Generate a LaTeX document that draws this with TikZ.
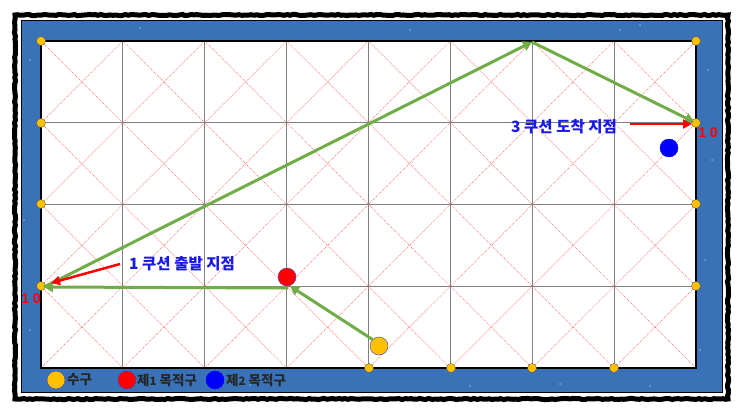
\documentclass[tikz,border=0pt]{standalone}
\usepackage{fontspec}
\setmainfont{Liberation Sans}
\newfontfamily\kr{Noto Sans CJK KR}
\usetikzlibrary{arrows.meta,decorations.pathmorphing}
\definecolor{rail}{HTML}{3A72B8}
\definecolor{gold}{HTML}{FFC000}
\definecolor{shotgreen}{HTML}{70AD47}
\definecolor{labelblue}{HTML}{1A1AE6}
\tikzset{
  gridline/.style={draw=black!50, line width=1.2pt},
  diag/.style={draw=red!60, line width=0.5pt, dash pattern=on 1pt off 1pt},
  diamondpt/.style={circle, fill=gold, draw=gray!60!black, line width=0.3pt, minimum size=9pt, inner sep=0pt},
  ball/.style={circle, draw=gray!50!blue, line width=0.4pt, minimum size=18pt, inner sep=0pt},
  shot/.style={draw=shotgreen, line width=3pt, -{Triangle[length=9pt,width=10pt]}},
  pointer/.style={draw=red, line width=2.5pt, -{Triangle[length=9pt,width=9pt]}},
  callout/.style={font=\kr\bfseries\fontsize{15.5}{17}\selectfont, text=labelblue, inner sep=0pt},
  num/.style={font=\bfseries\fontsize{14}{16}\selectfont, text=red, inner sep=0pt},
  legendtxt/.style={font=\kr\bfseries\fontsize{13.5}{15}\selectfont, text=black!85, inner sep=0pt, anchor=west},
  star/.style={circle, fill=white, opacity=0.35, inner sep=0pt, minimum size=2pt}
}
\begin{document}
\begin{tikzpicture}[x=1pt,y=-1pt]
\useasboundingbox (0,0) rectangle (743,414);
% outer rough black frame
\draw[line width=5pt, black, decorate, decoration={random steps, segment length=3pt, amplitude=0.6pt}]
  (15,15) rectangle (728,399);
% blue rail
\fill[rail] (21,20) rectangle (722,392);
\draw[black, line width=0.8pt] (21,20) rectangle (722,392);
% faint stars
\foreach \p in {(30,60),(140,28),(410,30),(640,25),(708,70),(712,160),(705,260),(30,330),(100,395),(250,385),(470,386),(560,384),(650,386),(700,350),(620,30),(24,220)}
  \node[star] at \p {};
% table surface
\fill[white] (41,41) rectangle (696,368);
% diagonals
\foreach \i in {0,...,7} {
  \foreach \j in {0,...,3} {
    \draw[diag] ({41+\i*81.875},{41+\j*81.75}) -- ({41+(\i+1)*81.875},{41+(\j+1)*81.75});
    \draw[diag] ({41+(\i+1)*81.875},{41+\j*81.75}) -- ({41+\i*81.875},{41+(\j+1)*81.75});
  }
}
% grid lines
\foreach \i in {1,...,7} \draw[gridline] ({41+\i*81.875},41) -- ({41+\i*81.875},368);
\foreach \j in {1,...,3} \draw[gridline] (41,{41+\j*81.75}) -- (696,{41+\j*81.75});
\draw[black, line width=1.2pt] (41,41) rectangle (696,368);
% diamond points
\node[diamondpt] (tl) at (41,41) {};
\node[diamondpt] (l1) at (41,123) {};
\node[diamondpt] (l2) at (41,204) {};
\node[diamondpt] (l3) at (41,286) {};
\node[diamondpt] (tr) at (696,41) {};
\node[diamondpt] (r1) at (696,123) {};
\node[diamondpt] (r2) at (696,204) {};
\node[diamondpt] (r3) at (696,286) {};
\node[diamondpt] (b4) at (369,368) {};
\node[diamondpt] (b5) at (451,368) {};
\node[diamondpt] (b6) at (532,368) {};
\node[diamondpt] (b7) at (614,368) {};
% balls
\node[ball, fill=gold] (cue) at (379,346) {};
\node[ball, fill=red] (obj1) at (287,277) {};
\node[ball, fill=blue, draw=blue] (obj2) at (669,148) {};
% cushion points
\coordinate (c1) at (44,287);
\coordinate (top) at (532,42);
\coordinate (c3) at (694,122);
\coordinate (hstart) at (288,288);
\coordinate (hit) at (290,286);
% shot path
\draw[shot] (cue.north west) -- (hit);
\draw[shot] (hstart) -- (c1);
\draw[shot] (c1) -- (top);
\draw[shot] (top) -- (c3);
% callouts
\node[callout, anchor=west] (lab1) at (129,264) {1 쿠션 출발 지점};
\node[callout, anchor=west] (lab3) at (511,127) {3 쿠션 도착 지점};
\coordinate (p1s) at (120,264);
\coordinate (p1e) at (51,283);
\coordinate (p3s) at (630,124);
\coordinate (p3e) at (692,124);
\draw[pointer] (p1s) -- (p1e);
\draw[pointer] (p3s) -- (p3e);
\node[num] (n1) at (31,299) {1 0};
\node[num] (n2) at (708,133) {1 0};
% legend
\node[ball, fill=gold] (lg1) at (56,380) {};
\node[legendtxt] (lt1) at (67,380) {수구};
\node[ball, fill=red] (lg2) at (127,380) {};
\node[legendtxt] (lt2) at (137,380) {제\textbf{\fontsize{11.5}{13}\selectfont 1} 목적구};
\node[ball, fill=blue, draw=blue] (lg3) at (215,380) {};
\node[legendtxt] (lt3) at (226,380) {제\textbf{\fontsize{11.5}{13}\selectfont 2} 목적구};
\end{tikzpicture}
\end{document}
